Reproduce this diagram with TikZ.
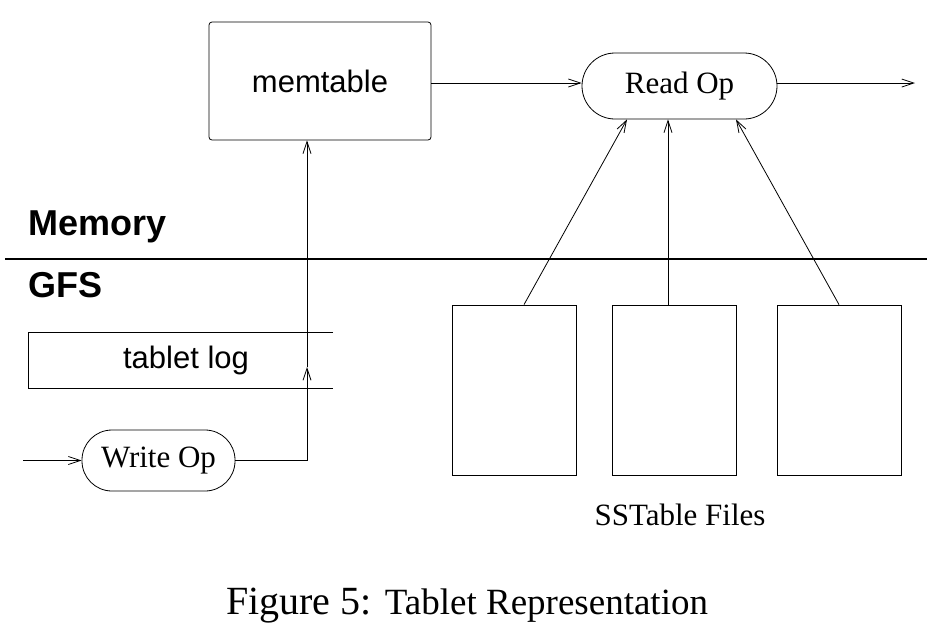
\documentclass[tikz,border=0pt]{standalone}
\usepackage{fontspec}
\setmainfont{Liberation Serif}
\setsansfont{Liberation Sans}
\usetikzlibrary{arrows.meta,calc}
\begin{document}
\begin{tikzpicture}[x=1pt,y=-1pt,
  line width=0.8pt,
  arr/.style={-{Straight Barb[length=12pt,width=8pt,line width=0.8pt]}},
  sanstxt/.style={font=\sffamily\fontsize{31}{31}\selectfont},
  seriftxt/.style={font=\fontsize{31}{31}\selectfont},
  oper/.style={draw, seriftxt, inner sep=0pt},
  ssbox/.style={draw, minimum width=124pt, minimum height=170pt, inner sep=0pt},
  lbl/.style={font=\sffamily\bfseries\fontsize{36}{36}\selectfont, anchor=base west, inner sep=0pt}
]
\useasboundingbox (0,0) rectangle (952,638);

% nodes
\node[draw, sanstxt, rounded corners=3pt, minimum width=222pt, minimum height=118pt, inner sep=0pt] (memtable) at (320,81) {memtable};
\node[oper, rounded corners=33pt, minimum width=195pt, minimum height=66pt] (read) at (679.5,86) {Read Op};
\node[oper, rounded corners=30pt, minimum width=153pt, minimum height=61pt] (write) at (158.5,460.5) {Write Op};
\node[ssbox] (s1) at (514,390) {};
\node[ssbox] (s2) at (674,390) {};
\node[ssbox] (s3) at (839,390) {};

\node[lbl] (memlbl) at (28,235) {Memory};
\node[lbl] (gfslbl) at (28,297) {GFS};
\node[sanstxt, inner sep=0pt] (tlog) at (186,360) {tablet log};
\node[seriftxt, anchor=base, inner sep=0pt] (sslbl) at (680,525) {SSTable Files};
\node[anchor=base, inner sep=0pt] (caption) at (467,614) {\fontsize{40}{40}\selectfont Figure 5: \fontsize{37}{37}\selectfont Tablet Representation};

% tablet log band
\draw (333,332) -- (28,332) -- (28,388) -- (333,388);

% separator
\draw[line width=1.5pt] (5,259) -- (927,259);

% coordinates
\coordinate (in) at (23,460.5);
\coordinate (out) at (915,83);
\coordinate (bend) at (307,460.5);
\coordinate (mid) at (307,367);

% connectors
\draw[arr] (in) -- (write.west);
\draw (write.east) -- (bend);
\draw[arr] (bend) -- (mid);
\draw[arr] (mid) -- (memtable.south -| bend);
\draw[arr] (memtable.east |- out) -- (read.west |- out);
\draw[arr] (read.east |- out) -- (out);
\draw[arr] ([xshift=10pt]s1.north) -- ([xshift=-52.5pt]read.south);
\draw[arr] ([xshift=-6pt]s2.north) -- ([xshift=-11.5pt]read.south);
\draw[arr] (s3.north) -- ([xshift=56.5pt]read.south);
\end{tikzpicture}
\end{document}
